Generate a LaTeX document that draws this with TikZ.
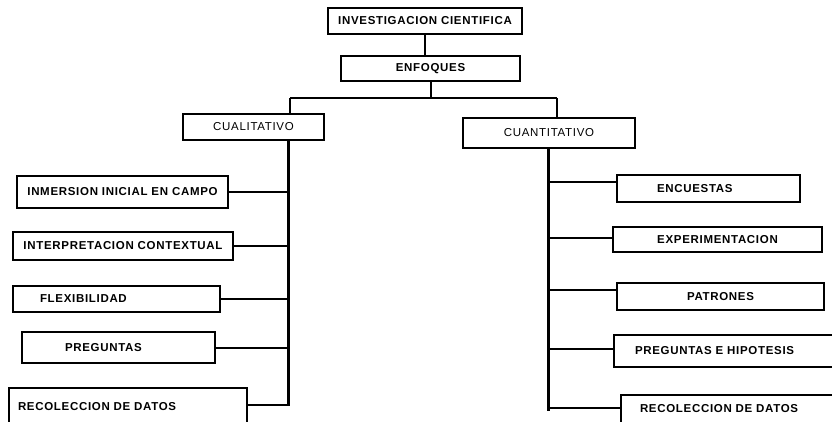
\documentclass[tikz,border=0pt]{standalone}
\usepackage{fontspec}
\newfontfamily\lblfont{Liberation Sans}[LetterSpace=6]
\usetikzlibrary{calc}

\begin{document}
\begin{tikzpicture}[x=1pt,y=-1pt,
		box/.style={draw,line width=1.8pt,anchor=north west,inner sep=0pt,outer sep=0pt,font=\lblfont\fontsize{11.5}{13}\selectfont\bfseries},
		lbox/.style={box,align=left},
		tronco/.style={line width=3pt},
		rama/.style={line width=2pt}]
	\useasboundingbox (0,0) rectangle (832,421);
	\path (328,  8) node [box,minimum width=194,minimum height=26] (inv) {INVESTIGACION CIENTIFICA};
	\path (341, 56) node [box,minimum width=179,minimum height=25] (enf) {ENFOQUES};
	\path (183,114) node [box,minimum width=141,minimum height=26,font=\lblfont\fontsize{11.5}{13}\selectfont] (cual) {CUALITATIVO};
	\path (463,118) node [box,minimum width=172,minimum height=30,font=\lblfont\fontsize{11.5}{13}\selectfont] (cuan) {CUANTITATIVO};
	% cualitativo
	\path ( 17,176) node [box,minimum width=211,minimum height=32] (inm) {INMERSION INICIAL EN CAMPO};
	\path ( 13,232) node [box,minimum width=220,minimum height=28] (int) {INTERPRETACION CONTEXTUAL};
	\path ( 13,286) node [lbox,inner xsep=27,text width=153,minimum height=26] (flx) {FLEXIBILIDAD};
	\path ( 22,332) node [lbox,inner xsep=43,text width=107,minimum height=31] (pre) {PREGUNTAS};
	\path (  9,388) node [lbox,inner xsep=9,text width=220,minimum height=38] (rcl) {RECOLECCION DE DATOS};
	% cuantitativo
	\path (617,175) node [lbox,inner xsep=40,text width=103,minimum height=27] (enc) {ENCUESTAS};
	\path (613,227) node [box,minimum width=209,minimum height=25] (exp) {EXPERIMENTACION};
	\path (617,283) node [box,minimum width=207,minimum height=27] (pat) {PATRONES};
	\path (614,335) node [lbox,inner xsep=21,text width=184,minimum height=32] (hip) {PREGUNTAS E HIPOTESIS};
	\path (621,395) node [lbox,inner xsep=19,text width=190,minimum height=28] (rcr) {RECOLECCION DE DATOS};
	\coordinate (jl) at (290,98);
	\coordinate (jr) at (557,98);
	\coordinate (tl) at (288,406);
	\coordinate (tr) at (548,411);
	\draw [rama] (inv.south) -- (inv.south |- enf.north);
	\draw [rama] (enf.south) -- (enf.south |- jl);
	\draw [rama] (jl) -- (jr);
	\draw [rama] (jl) -- (jl |- cual.north);
	\draw [rama] (jr) -- (jr |- cuan.north);
	\draw [tronco] (tl |- cual.south) -- (tl);
	\draw [tronco] (tr |- cuan.south) -- (tr);
	\draw [rama] (inm.east) -- (inm.east -| tl);
	\draw [rama] (int.east) -- (int.east -| tl);
	\draw [rama] (flx.east) -- (flx.east -| tl);
	\draw [rama] (pre.east) -- (pre.east -| tl);
	\draw [rama] ([yshift=2pt]rcl.east) -- ([yshift=2pt]rcl.east -| tl);
	\draw [rama] ([yshift=7pt]enc.west) -- ([yshift=7pt]enc.west -| tr);
	\draw [rama] ([yshift=2pt]exp.west) -- ([yshift=2pt]exp.west -| tr);
	\draw [rama] ([yshift=7pt]pat.west) -- ([yshift=7pt]pat.west -| tr);
	\draw [rama] ([yshift=2pt]hip.west) -- ([yshift=2pt]hip.west -| tr);
	\draw [rama] ([yshift=1pt]rcr.west) -- ([yshift=1pt]rcr.west -| tr);
\end{tikzpicture}
\end{document}
